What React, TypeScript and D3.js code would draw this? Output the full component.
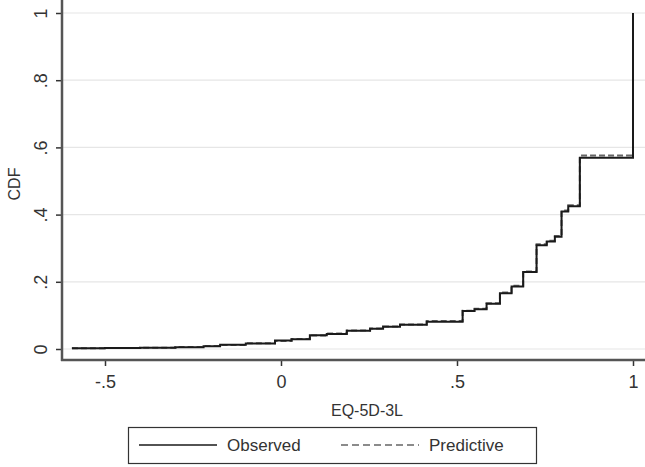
import { useEffect, useRef } from 'react';
import * as d3 from 'd3';

// EQ-5D-3L utility values where the empirical CDF steps
const utilityValues = [
  -0.594, -0.5, -0.4, -0.3, -0.22, -0.173, -0.1, -0.017, 0.03, 0.082, 0.13, 0.187,
  0.253, 0.29, 0.338, 0.414, 0.516, 0.55, 0.584, 0.622, 0.655, 0.688, 0.726, 0.755,
  0.778, 0.797, 0.816, 0.849, 1.0
];

const observedCdf = [
  0.002, 0.003, 0.004, 0.005, 0.008, 0.013, 0.016, 0.025, 0.029, 0.041, 0.045, 0.054,
  0.06, 0.066, 0.072, 0.081, 0.113, 0.118, 0.135, 0.166, 0.186, 0.229, 0.309, 0.32,
  0.334, 0.409, 0.425, 0.569, 1.0
];

const predictiveCdf = [
  0.002, 0.003, 0.004, 0.006, 0.009, 0.012, 0.017, 0.024, 0.03, 0.04, 0.046, 0.055,
  0.061, 0.067, 0.073, 0.083, 0.114, 0.12, 0.136, 0.168, 0.188, 0.231, 0.312, 0.322,
  0.336, 0.412, 0.428, 0.576, 1.0
];

const xTicks = [-0.5, 0, 0.5, 1];
const yTicks = [0, 0.2, 0.4, 0.6, 0.8, 1];
const seriesNames = ['Observed', 'Predictive'];

const width = 645;
const height = 467;
const font = '"Liberation Sans", Arial, sans-serif';

const fmt = (d: number) => {
  if (d === 0 || d === 1) return String(d);
  return d.toString().replace('0.', '.');
};

const CdfChart: React.FC = () => {
  const svgRef = useRef<SVGSVGElement>(null);

  useEffect(() => {
    if (!svgRef.current) return;
    document.body.style.margin = '0';

    const svg = d3.select(svgRef.current);
    svg.selectAll('*').remove();

    const plotLeft = 62;
    const plotRight = 645;
    const plotTop = 0;
    const plotBottom = 360;

    const xScale = d3.scaleLinear().domain([-0.5, 1]).range([105, 633]);
    const yScale = d3.scaleLinear().domain([0, 1]).range([349, 13]);

    svg.append('rect')
      .attr('width', width)
      .attr('height', height)
      .attr('fill', '#fff');

    // gridlines
    svg.append('g')
      .selectAll('line')
      .data(yTicks)
      .enter()
      .append('line')
      .attr('x1', plotLeft)
      .attr('x2', plotRight)
      .attr('y1', d => yScale(d))
      .attr('y2', d => yScale(d))
      .attr('stroke', '#e6e6e6')
      .attr('stroke-width', 1.2);

    // y axis
    const yAxis = d3.axisLeft(yScale).tickValues(yTicks).tickSize(6).tickFormat(d => fmt(+d));
    const gy = svg.append('g')
      .attr('transform', `translate(${plotLeft},0)`)
      .call(yAxis);
    gy.select('.domain').remove();
    gy.selectAll('.tick line').attr('stroke', '#333').attr('stroke-width', 1.5);
    gy.selectAll('.tick text')
      .attr('x', 0)
      .attr('text-anchor', 'middle')
      .attr('font-family', font)
      .attr('font-size', 18)
      .attr('fill', '#333')
      .attr('transform', 'translate(-21,0) rotate(-90)')
      .attr('dy', '0.35em');
    svg.append('line')
      .attr('x1', plotLeft).attr('x2', plotLeft)
      .attr('y1', plotTop).attr('y2', plotBottom + 1)
      .attr('stroke', '#555')
      .attr('stroke-width', 2.5);

    // x axis
    const xAxis = d3.axisBottom(xScale).tickValues(xTicks).tickSize(6).tickFormat(d => fmt(+d));
    const gx = svg.append('g')
      .attr('transform', `translate(0,${plotBottom})`)
      .call(xAxis);
    gx.select('.domain').remove();
    gx.selectAll('.tick line').attr('stroke', '#333').attr('stroke-width', 1.5);
    gx.selectAll('.tick text')
      .attr('y', 15)
      .attr('dy', '0.71em')
      .attr('font-family', font)
      .attr('font-size', 18)
      .attr('fill', '#333');
    svg.append('line')
      .attr('x1', plotLeft - 1).attr('x2', plotRight)
      .attr('y1', plotBottom).attr('y2', plotBottom)
      .attr('stroke', '#555')
      .attr('stroke-width', 2.5);

    // axis titles
    svg.append('text')
      .attr('transform', `translate(14,184) rotate(-90)`)
      .attr('text-anchor', 'middle')
      .attr('dy', '0.35em')
      .attr('font-family', font)
      .attr('font-size', 16)
      .attr('fill', '#333')
      .text('CDF');
    svg.append('text')
      .attr('x', 367)
      .attr('y', 410)
      .attr('text-anchor', 'middle')
      .attr('dy', '0.35em')
      .attr('font-family', font)
      .attr('font-size', 16)
      .attr('fill', '#333')
      .text('EQ-5D-3L');

    // step lines
    const line = d3.line<number>()
      .x((_, i) => xScale(utilityValues[i]))
      .y(d => yScale(d))
      .curve(d3.curveStepAfter);

    svg.append('path')
      .datum(predictiveCdf)
      .attr('d', line)
      .attr('fill', 'none')
      .attr('stroke', '#666')
      .attr('stroke-width', 2)
      .attr('stroke-dasharray', '6,3');

    svg.append('path')
      .datum(observedCdf)
      .attr('d', line)
      .attr('fill', 'none')
      .attr('stroke', '#1a1a1a')
      .attr('stroke-width', 2);

    // legend
    const legend = svg.append('g');
    legend.append('rect')
      .attr('x', 128.5)
      .attr('y', 427.5)
      .attr('width', 408)
      .attr('height', 36)
      .attr('fill', '#fff')
      .attr('stroke', '#333')
      .attr('stroke-width', 1.2);

    const items = [
      { name: seriesNames[0], x: 139, dash: null as string | null, color: '#1a1a1a' },
      { name: seriesNames[1], x: 341, dash: '7,4', color: '#666' }
    ];
    items.forEach(it => {
      legend.append('line')
        .attr('x1', it.x).attr('x2', it.x + 78)
        .attr('y1', 445).attr('y2', 445)
        .attr('stroke', it.color)
        .attr('stroke-width', 1.5)
        .attr('stroke-dasharray', it.dash);
      legend.append('text')
        .attr('x', it.x + 88)
        .attr('y', 445)
        .attr('dy', '0.35em')
        .attr('font-family', font)
        .attr('font-size', 17)
        .attr('fill', '#333')
        .text(it.name);
    });
  }, []);

  return <svg ref={svgRef} width={width} height={height} style={{ display: 'block' }} />;
};

export default function App() {
  return <CdfChart />;
}
